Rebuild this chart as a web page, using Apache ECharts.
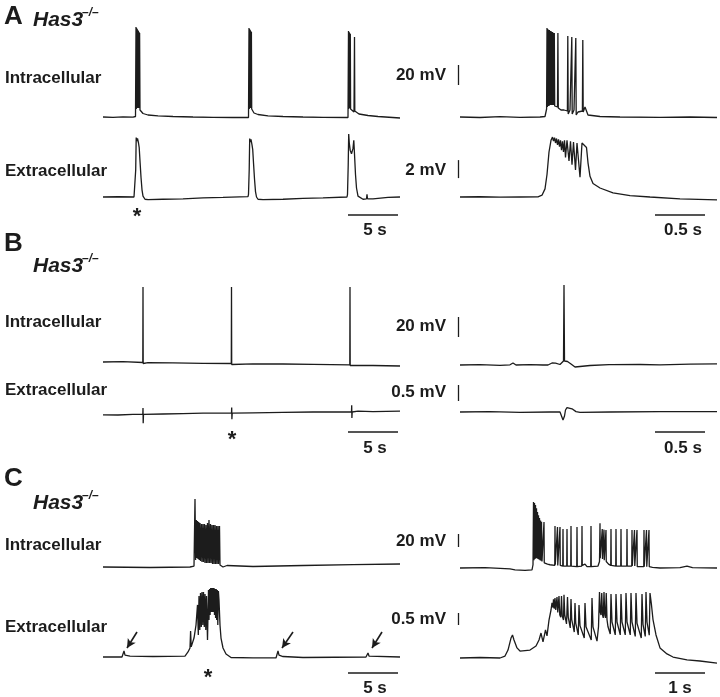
<!DOCTYPE html>
<html><head><meta charset="utf-8">
<script src="https://cdn.jsdelivr.net/npm/echarts@6/dist/echarts.min.js"></script>
<style>html,body{margin:0;padding:0;background:#fff}#c{width:720px;height:697px}</style>
</head><body><div id="c"></div>
<script>
// ---------- DATA (time in s, potential in mV relative to baseline) ----------
const aIntraL = [[0,0],[1,-0.3],[2,0.2],[3,-0.2],[3.25,0.5],[3.3,90],[3.33,8],[3.36,89],[3.39,9],[3.42,88],[3.45,9],[3.48,87],[3.51,9],[3.54,86],[3.57,9],[3.6,85],[3.63,9],[3.66,84],[3.7,7],[3.8,5],[4.0,3.5],[4.5,2],[5.5,1.2],[7,0.5],[9,0],[11,-0.3],[13,-0.5],[14.55,-0.5],[14.6,89],[14.63,8],[14.66,88],[14.69,9],[14.72,87],[14.75,9],[14.78,86],[14.81,9],[14.84,85],[14.87,8],[14.92,6],[15.1,4],[15.5,2.5],[16.5,1.2],[18,0.5],[20,0],[22,-0.3],[24.5,-0.5],[24.55,86],[24.58,8],[24.61,85],[24.64,9],[24.67,84],[24.7,9],[24.73,83],[24.76,8],[24.85,6],[25.1,5],[25.15,80],[25.18,6],[25.3,4],[25.6,3],[26.5,1.5],[27.5,0.5],[29.7,-1]];
const aExtraL = [[0,0],[1.5,0.03],[3.1,0],[3.2,0.2],[3.27,3],[3.32,6.6],[3.38,6.2],[3.45,6.5],[3.55,6.0],[3.62,5.5],[3.7,4.0],[3.8,2.2],[3.9,0.8],[4.0,0.1],[4.2,-0.25],[4.5,-0.3],[6,-0.25],[8,-0.2],[10,-0.1],[12,-0.05],[14.5,0.05],[14.55,0.3],[14.62,3],[14.67,6.5],[14.73,6.1],[14.8,6.4],[14.9,5.8],[14.97,5.3],[15.05,3.8],[15.15,2.0],[15.25,0.6],[15.35,0],[15.5,-0.25],[16,-0.3],[18,-0.25],[20,-0.15],[22,-0.1],[24.4,0],[24.45,0.3],[24.52,3.5],[24.57,7.0],[24.63,6.0],[24.72,5.2],[24.85,4.8],[25.0,5.4],[25.08,6.3],[25.14,5.0],[25.25,2.5],[25.35,1.0],[25.5,0.1],[26,-0.25],[26.35,-0.2],[26.4,0.3],[26.45,-0.2],[27,-0.2],[28.5,-0.05],[29.7,0]];
const aIntraR = [[0,0],[0.2,-0.5],[0.4,0.3],[0.6,-0.3],[0.8,0],[0.85,0.5],[0.866,8],[0.87,89],[0.874,10],[0.878,88],[0.882,11],[0.886,87],[0.89,11],[0.894,87],[0.898,12],[0.902,86],[0.906,12],[0.91,86],[0.914,12],[0.918,85],[0.922,12],[0.926,85],[0.93,12],[0.934,84],[0.938,12],[0.943,84],[0.947,11],[0.96,10],[0.975,10],[0.979,84],[0.983,9],[0.99,8],[1.0,9],[1.01,7],[1.02,8],[1.03,6],[1.04,7],[1.05,6],[1.06,8],[1.074,6],[1.078,81],[1.082,3],[1.09,5],[1.1,7],[1.114,6],[1.118,80],[1.122,3],[1.13,5],[1.14,7],[1.154,6],[1.158,79],[1.162,2],[1.18,5],[1.2,6],[1.224,6],[1.228,77],[1.232,5],[1.25,10],[1.265,8],[1.28,2],[1.3,1],[1.4,0.5],[1.6,0],[2.0,-0.3],[2.3,0],[2.57,-0.5]];
const aExtraR = [[0,0],[0.2,0.03],[0.4,-0.02],[0.6,0],[0.78,0.02],[0.82,0.2],[0.85,0.9],[0.87,2.5],[0.89,5.0],[0.91,6.3],[0.925,6.65],[0.935,6.2],[0.945,6.6],[0.955,6.0],[0.965,6.5],[0.975,5.8],[0.985,6.4],[0.995,5.6],[1.005,6.3],[1.015,5.2],[1.025,6.2],[1.035,5.0],[1.045,6.3],[1.055,4.4],[1.07,6.3],[1.09,4.0],[1.105,6.2],[1.12,3.6],[1.135,6.1],[1.155,3.0],[1.17,6.0],[1.2,2.2],[1.22,6.0],[1.24,5.9],[1.265,5.5],[1.28,3.8],[1.3,2.3],[1.33,1.5],[1.4,1.0],[1.53,0.45],[1.7,0.15],[1.9,0],[2.2,-0.2],[2.57,-0.33]];

const bIntraL = [[0,1],[2,1.3],[3.98,0.5],[4.0,76],[4.02,-0.5],[4.1,0.8],[4.5,0.3],[7,0.2],[10,-0.3],[12.83,-0.5],[12.85,76],[12.87,-1.5],[12.95,-0.3],[15,-0.8],[18,-1],[21,-1.3],[24.68,-1.8],[24.7,76],[24.72,-2.5],[24.8,-1.8],[27,-2.5],[29.7,-3]];
const bExtraL = [[0,-0.0875],[1.5,-0.094],[3,-0.075],[3.98,-0.075],[4.0,0.125],[4.02,-0.35],[4.05,-0.075],[6,-0.0625],[8,-0.05],[10,-0.0375],[12.85,-0.0375],[12.87,0.1375],[12.89,-0.225],[12.92,-0.0375],[15,-0.025],[18,-0.0125],[21,0],[24.85,0],[24.87,0.2125],[24.89,-0.1875],[24.92,0],[25.5,0.025],[27,0.0125],[29.7,0.025]];
const bIntraR = [[0,0],[0.2,0.3],[0.4,-0.3],[0.5,0.2],[0.53,2],[0.56,0],[0.7,0.3],[0.83,0],[0.85,1.8],[0.88,0],[0.9,0.3],[0.92,2],[0.94,0],[0.955,1.8],[0.975,0],[1.0,0.5],[1.02,2],[1.035,4],[1.04,80],[1.045,4],[1.06,5],[1.075,3.5],[1.09,4],[1.11,1],[1.15,-2],[1.2,-1.5],[1.3,-0.5],[1.49,0.3],[1.5,1.2],[1.52,0.3],[1.8,0.5],[2.0,0.2],[2.3,0.8],[2.57,1.2]];
const bExtraR = [[0,0],[0.3,0.0125],[0.6,-0.0125],[0.9,0],[1.0,0],[1.015,-0.0625],[1.03,-0.25],[1.045,-0.125],[1.055,0.0625],[1.07,0.1375],[1.09,0.156],[1.12,0.1],[1.16,0.0125],[1.2,-0.0125],[1.5,0],[2.0,0.0125],[2.57,0.0125]];

const cIntraL = [[0,0],[4.7,-0.8],[8.7,0],[9.1,1.5],[9.2,104.6],[9.26,10.8],[9.33,72.3],[9.38,13.8],[9.45,70.8],[9.5,12.3],[9.57,69.2],[9.62,10.8],[9.7,67.7],[9.75,9.2],[9.85,66.2],[9.9,7.7],[10.0,66.2],[10.05,7.7],[10.15,66.2],[10.2,6.2],[10.3,64.6],[10.35,6.2],[10.45,67.7],[10.5,6.2],[10.6,72.3],[10.65,6.2],[10.75,66.2],[10.8,6.2],[10.9,64.6],[10.95,4.6],[11.05,64.6],[11.1,4.6],[11.2,64.6],[11.25,4.6],[11.35,63.1],[11.4,4.6],[11.5,63.1],[11.55,4.6],[11.65,63.1],[11.7,3.1],[11.8,1.5],[12.0,0],[12.4,2.3],[12.6,0],[15,0.8],[20,2.3],[25,3.8],[29.7,4.6]];
const cExtraL = [[0,0],[1.9,0],[2.1,0.25],[2.2,0.08],[2.7,0.04],[2.9,0],[5,0.02],[8.2,0.04],[8.5,0.21],[8.7,0.375],[8.76,1.08],[8.82,0.42],[8.95,0.5],[9.1,0.79],[9.3,1.33],[9.45,2.17],[9.53,0.92],[9.6,2.54],[9.68,1.125],[9.75,2.67],[9.83,1.25],[9.9,2.71],[9.98,1.33],[10.05,2.71],[10.13,1.25],[10.2,2.625],[10.28,1.125],[10.35,2.54],[10.45,0.71],[10.55,2.79],[10.6,1.54],[10.66,2.83],[10.71,1.75],[10.77,2.875],[10.82,1.875],[10.88,2.875],[10.93,1.875],[10.99,2.875],[11.04,1.875],[11.1,2.875],[11.15,1.75],[11.21,2.83],[11.26,1.625],[11.32,2.83],[11.37,1.54],[11.43,2.79],[11.48,1.33],[11.54,2.75],[11.6,2.375],[11.7,1.33],[11.8,0.79],[12.0,0.375],[12.3,0.125],[12.8,-0.02],[15,-0.04],[17.3,-0.04],[17.5,0.25],[17.6,0.08],[18,0.02],[20,-0.02],[26.3,0],[26.5,0.17],[26.6,0.04],[29.7,0]];
const cIntraR = [[0,0],[0.5,0.5],[1.0,-1.5],[1.1,-3],[1.3,-3.8],[1.44,-3],[1.46,5],[1.47,101.5],[1.48,12],[1.49,100],[1.5,14],[1.51,97],[1.52,15],[1.53,92],[1.54,15],[1.55,86],[1.56,14],[1.57,81],[1.58,13],[1.59,77],[1.6,12],[1.61,73],[1.62,11],[1.63,71],[1.64,10],[1.675,8],[1.68,70.8],[1.685,8],[1.75,6],[1.8,5],[1.895,4],[1.9,64.6],[1.905,5],[1.945,4],[1.95,63],[1.955,4],[1.995,4],[2.0,63],[2.005,4],[2.055,3],[2.06,60],[2.065,3],[2.135,3],[2.14,60],[2.145,3],[2.215,3],[2.22,64.6],[2.225,3],[2.335,2],[2.34,63],[2.345,2],[2.435,3],[2.44,64.6],[2.445,4],[2.5,6],[2.54,2],[2.615,2],[2.62,64.6],[2.625,2],[2.76,3],[2.79,10],[2.8,69],[2.805,15],[2.84,14],[2.845,60],[2.85,14],[2.875,13],[2.88,59],[2.885,12],[2.915,11],[2.92,58.5],[2.925,10],[2.97,6],[3.015,4],[3.02,60],[3.025,4],[3.115,3],[3.12,60],[3.125,3],[3.215,3],[3.22,60],[3.225,3],[3.335,3],[3.34,60],[3.345,3],[3.435,3],[3.44,58.5],[3.445,3],[3.485,3],[3.49,58.5],[3.495,3],[3.535,2],[3.54,58.5],[3.545,2],[3.675,2],[3.68,58.5],[3.685,2],[3.725,2],[3.73,58.5],[3.735,2],[3.775,2],[3.78,58.5],[3.785,2],[3.85,1],[4.0,0],[4.4,0.5],[4.54,3],[4.65,0.5],[5.14,0]];
const cExtraR = [[0,0],[0.4,0.02],[0.8,0],[0.9,0.08],[0.96,0.33],[1.02,0.83],[1.05,0.96],[1.08,0.75],[1.14,0.42],[1.2,0.29],[1.4,0.33],[1.52,0.5],[1.58,0.75],[1.62,1.04],[1.66,0.67],[1.71,1.17],[1.74,0.92],[1.78,1.58],[1.82,2.0],[1.84,2.3],[1.86,2.1],[1.87,2.45],[1.885,2.05],[1.9,2.5],[1.915,2.0],[1.93,1.92],[1.94,2.54],[1.955,1.9],[1.97,1.83],[1.98,2.58],[1.995,1.8],[2.015,1.7],[2.03,2.58],[2.045,1.75],[2.07,1.58],[2.08,2.63],[2.095,1.8],[2.13,1.42],[2.15,2.54],[2.165,1.7],[2.205,1.25],[2.22,2.46],[2.235,1.6],[2.285,1.08],[2.3,2.29],[2.315,1.45],[2.365,0.96],[2.38,2.21],[2.4,1.35],[2.485,0.83],[2.5,2.29],[2.52,1.3],[2.625,0.75],[2.64,2.5],[2.66,1.3],[2.74,0.7],[2.77,1.3],[2.79,2.75],[2.805,1.9],[2.82,1.79],[2.835,2.71],[2.85,1.8],[2.865,1.67],[2.88,2.75],[2.895,1.8],[2.91,1.67],[2.925,2.71],[2.94,1.6],[2.96,1.3],[3.005,1.0],[3.02,2.67],[3.04,1.5],[3.105,0.96],[3.12,2.67],[3.14,1.5],[3.205,0.96],[3.22,2.67],[3.24,1.5],[3.305,0.96],[3.32,2.71],[3.34,1.5],[3.405,0.96],[3.42,2.71],[3.44,1.5],[3.505,0.9],[3.52,2.71],[3.54,1.45],[3.625,0.83],[3.64,2.67],[3.66,1.4],[3.705,0.9],[3.72,2.75],[3.74,1.5],[3.785,0.95],[3.8,2.71],[3.83,2.2],[3.86,1.6],[3.92,0.96],[4.0,0.42],[4.14,0.17],[4.26,0.04],[4.54,-0.08],[4.8,-0.125],[5.14,-0.21]];

// scale bars: [trace, t0, t1, v0, v1]
const scaleBars = [
  ['aExtraL', 24.5, 29.5, -2, -2], ['aExtraR', 1.95, 2.45, -2, -2],
  ['aIntraR', -0.015, -0.015, 32, 52], ['aExtraR', -0.015, -0.015, 2.1, 4.1],
  ['bExtraL', 24.5, 29.5, -0.625, -0.625], ['bExtraR', 1.95, 2.45, -0.625, -0.625],
  ['bIntraR', -0.015, -0.015, 28, 48], ['bExtraR', -0.015, -0.015, 0.344, 0.844],
  ['cExtraL', 24.5, 29.5, -0.667, -0.667], ['cExtraR', 3.9, 4.9, -0.625, -0.625],
  ['cIntraR', -0.03, -0.03, 32.3, 52.3], ['cExtraR', -0.03, -0.03, 1.375, 1.875]
];
// arrows in panel C (extracellular, left): [t0, v0, t1, v1]
const arrows = [[3.4,1.04,2.4,0.375],[19.0,1.04,17.9,0.375],[27.9,1.04,26.9,0.375]];

// ---------- LAYOUT ----------
const H = 697;
const cols = {
  L:  {left:103, width:297, min:0, max:29.7},
  R1: {left:455, width:262, min:-0.05, max:2.57},
  R2: {left:455, width:262, min:-0.1, max:5.14}
};
const traces = [
  {name:'aIntraL', data:aIntraL, col:'L',  yb:117, k:1},
  {name:'aExtraL', data:aExtraL, col:'L',  yb:197, k:9},
  {name:'aIntraR', data:aIntraR, col:'R1', yb:117, k:1},
  {name:'aExtraR', data:aExtraR, col:'R1', yb:197, k:9},
  {name:'bIntraL', data:bIntraL, col:'L',  yb:363, k:1},
  {name:'bExtraL', data:bExtraL, col:'L',  yb:412, k:32},
  {name:'bIntraR', data:bIntraR, col:'R1', yb:365, k:1},
  {name:'bExtraR', data:bExtraR, col:'R1', yb:412, k:32},
  {name:'cIntraL', data:cIntraL, col:'L',  yb:567, k:0.65},
  {name:'cExtraL', data:cExtraL, col:'L',  yb:657, k:24},
  {name:'cIntraR', data:cIntraR, col:'R2', yb:568, k:0.65},
  {name:'cExtraR', data:cExtraR, col:'R2', yb:658, k:24}
];
const INK = '#1c1c1c';
const grid=[], xAxis=[], yAxis=[], series=[];
const idx = {};
traces.forEach((tr,i)=>{
  const c = cols[tr.col];
  idx[tr.name]=i;
  grid.push({left:c.left, width:c.width, top:0, bottom:0, containLabel:false});
  xAxis.push({type:'value', gridIndex:i, min:c.min, max:c.max, show:false});
  yAxis.push({type:'value', gridIndex:i, min:(tr.yb-H)/tr.k, max:tr.yb/tr.k, show:false});
  const s = {type:'line', xAxisIndex:i, yAxisIndex:i, data:tr.data, symbol:'none', showSymbol:false,
    lineStyle:{color:INK, width:1.3}, clip:false, silent:true, animation:false};
  if (tr.name==='cExtraL') {
    s.markLine = {silent:true, symbol:['none','arrow'], symbolSize:[7,9], label:{show:false},
      lineStyle:{color:INK, width:1.6, type:'solid'},
      data: arrows.map(a=>[{coord:[a[0],a[1]]},{coord:[a[2],a[3]]}])};
  }
  series.push(s);
});
scaleBars.forEach(b=>{
  const i = idx[b[0]];
  series.push({type:'line', xAxisIndex:i, yAxisIndex:i, data:[[b[1],b[3]],[b[2],b[4]]], symbol:'none',
    lineStyle:{color:INK, width:1.3}, clip:false, silent:true, animation:false});
});

// ---------- TEXT ----------
const FF = '"Liberation Sans", Arial, sans-serif';
function txt(x,y,text,size,opts){
  opts=opts||{};
  return {type:'text', x:x, y:y, silent:true, style:{text:text, fill:INK,
    font:(opts.italic?'italic ':'')+'bold '+size+'px '+FF,
    textAlign:opts.align||'left', textVerticalAlign:'middle'}};
}
const labels = [];
[['A',17,20,78,171,75,170,'20 mV','2 mV'],
 ['B',244,266,322,390,326,392,'20 mV','0.5 mV'],
 ['C',479,503,545,627,541,619,'20 mV','0.5 mV']].forEach(p=>{
  labels.push(txt(4,p[1],p[0],26));
  labels.push(txt(33,p[2],'Has3',21,{italic:true}));
  labels.push(txt(82,p[2]-7,'\u2013/\u2013',12,{italic:true}));
  labels.push(txt(5,p[3],'Intracellular',17));
  labels.push(txt(5,p[4],'Extracellular',17));
  labels.push(txt(446,p[5],p[7],17,{align:'right'}));
  labels.push(txt(446,p[6],p[8],17,{align:'right'}));
});
labels.push(txt(137,217,'*',22,{align:'center'}));
labels.push(txt(232,440,'*',22,{align:'center'}));
labels.push(txt(208,678,'*',22,{align:'center'}));
labels.push(txt(375,230,'5 s',17,{align:'center'}));
labels.push(txt(683,230,'0.5 s',17,{align:'center'}));
labels.push(txt(375,448,'5 s',17,{align:'center'}));
labels.push(txt(683,448,'0.5 s',17,{align:'center'}));
labels.push(txt(375,688,'5 s',17,{align:'center'}));
labels.push(txt(680,688,'1 s',17,{align:'center'}));

const chart = echarts.init(document.getElementById('c'), null, {renderer:'canvas'});
chart.setOption({animation:false, backgroundColor:'#fff', grid, xAxis, yAxis, series, graphic:labels});
</script></body></html>
